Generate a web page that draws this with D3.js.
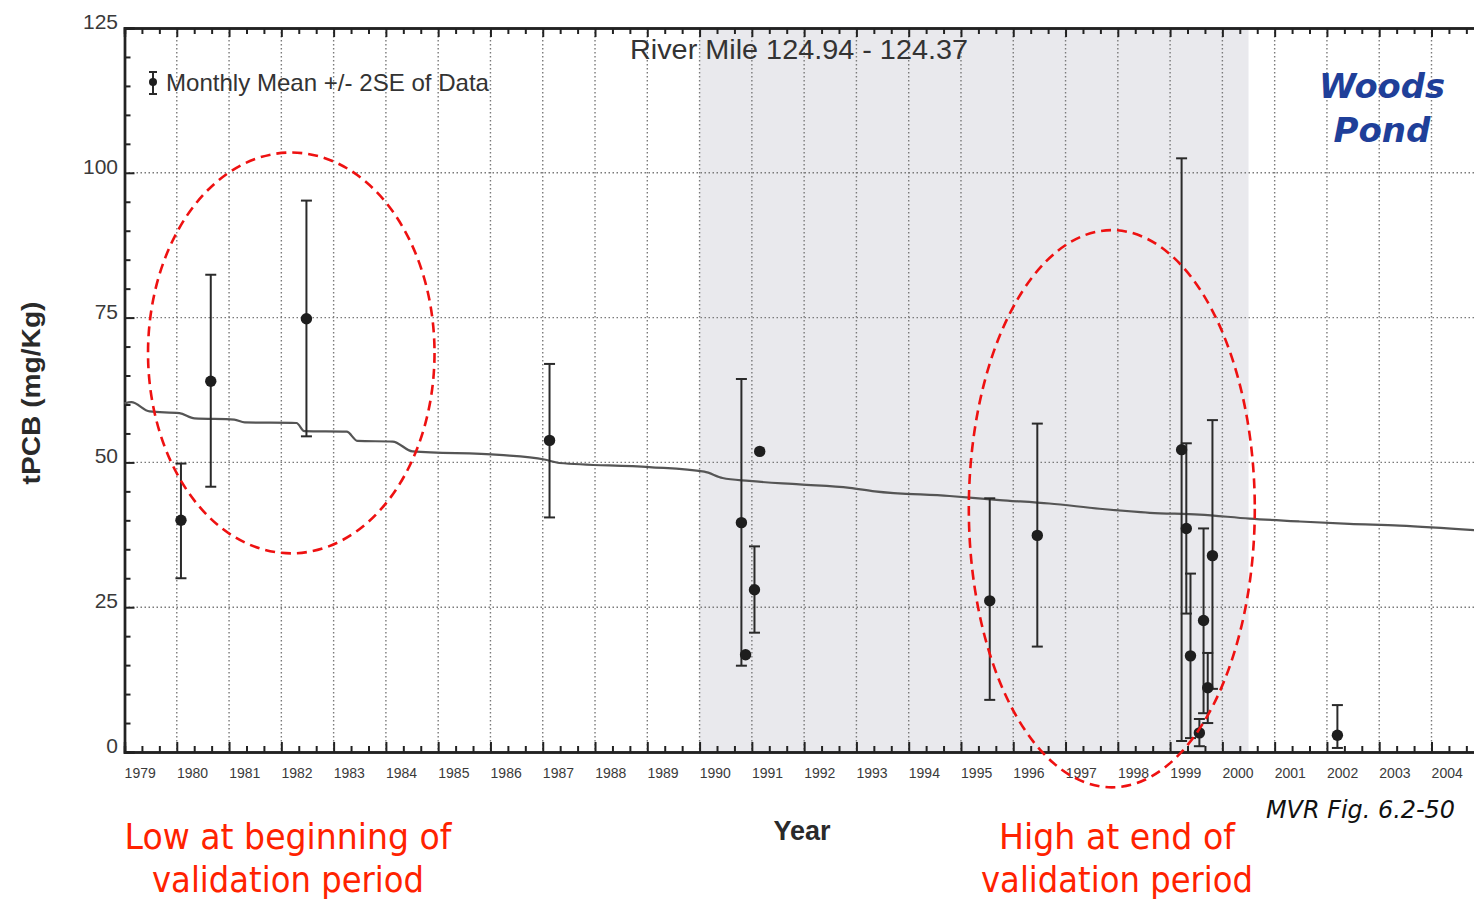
<!DOCTYPE html>
<html>
<head>
<meta charset="utf-8">
<script src="https://cdn.jsdelivr.net/npm/d3@7"></script>
<style>
  body { margin: 0; background: #fff; }
  svg { display: block; }
</style>
</head>
<body>
<svg id="chart" width="1474" height="900"></svg>
<script>
// ---- data -------------------------------------------------------------
const yearLabels = d3.range(1979, 2005);           // 1979 ... 2004
const yTickValues = [0, 25, 50, 75, 100, 125];
const yGridValues = [25, 50, 75, 100];
const validationPeriod = [1990.0, 2000.5];

// Monthly mean tPCB (mg/Kg) with +/- 2SE limits (null where no bar is shown)
const obsYears = [1980.08, 1980.65, 1982.48, 1987.13, 1990.80, 1990.88, 1991.15, 1991.05,
                  1995.55, 1996.46, 1999.22, 1999.31, 1999.39, 1999.56, 1999.64, 1999.72,
                  1999.81, 2002.20];
const obsMean  = [40.0, 64.0, 74.8, 53.8, 39.6, 16.8, 51.9, 28.0,
                  26.1, 37.4, 52.2, 38.6, 16.6, 3.3, 22.7, 11.1,
                  33.9, 2.9];
const obsLower = [30.0, 45.8, 54.5, 40.5, 14.9, null, null, 20.6,
                  9.0, 18.2, 1.9, 23.9, 2.4, 1.0, 6.7, 5.0,
                  10.9, 0.7];
const obsUpper = [49.8, 82.4, 95.2, 67.0, 64.4, null, null, 35.5,
                  43.8, 56.7, 102.5, 53.3, 30.8, 5.7, 38.6, 17.1,
                  57.3, 8.1];

// Model-predicted tPCB trajectory
const modelYears  = [1979.0, 1979.13, 1979.48, 1980.05, 1980.34, 1981.10, 1981.30, 1982.29,
                     1982.44, 1983.25, 1983.46, 1984.13, 1984.51, 1986.17, 1987.03, 1987.32,
                     1989.04, 1990.09, 1990.44, 1990.95, 1991.91, 1992.87, 1993.35, 1994.78,
                     1995.74, 1996.69, 1997.65, 1998.61, 1999.56, 2000.52, 2001.48, 2002.43,
                     2003.39, 2005.0];
const modelValues = [60.2, 60.4, 58.8, 58.5, 57.6, 57.4, 56.9, 56.8,
                     55.4, 55.3, 53.7, 53.6, 51.9, 51.3, 50.5, 49.9,
                     49.2, 48.4, 47.3, 46.8, 46.2, 45.6, 45.0, 44.2,
                     43.5, 42.9, 42.0, 41.3, 41.0, 40.3, 39.8, 39.4,
                     39.1, 38.2];

// Highlighted periods: [start year, end year, low value, high value]
const highlightLow  = [1979.45, 1984.93, 34.3, 103.5];
const highlightHigh = [1995.15, 2000.62, -6.1, 90.1];

// ---- layout -----------------------------------------------------------
const svg = d3.select("#chart");
const plotLeft = 124.5, plotTop = 28, plotBottom = 752;
const yearWidth = 52.28;

const x = d3.scaleLinear().domain([1979, 2005]).range([plotLeft, plotLeft + 26 * yearWidth]);
const y = d3.scaleLinear().domain([0, 125]).range([plotBottom, plotTop]);
const plotRight = x(2005);

const axisColor = "#222";
const textGray = "#3a3a3a";

// validation-period shading
svg.append("rect")
  .attr("x", x(validationPeriod[0]))
  .attr("y", y(125))
  .attr("width", x(validationPeriod[1]) - x(validationPeriod[0]))
  .attr("height", y(0) - y(125))
  .attr("fill", "#e9e9ed");

// dotted grid
const grid = svg.append("g").attr("stroke", "#7a7a7a").attr("stroke-width", 1.4)
  .attr("stroke-dasharray", "1.5,2.5");
grid.selectAll("line.v").data(yearLabels.slice(1).concat([2005]))
  .join("line").attr("class", "v")
  .attr("x1", d => x(d)).attr("x2", d => x(d))
  .attr("y1", y(125)).attr("y2", y(0));
grid.selectAll("line.h").data(yGridValues)
  .join("line").attr("class", "h")
  .attr("x1", x(1979)).attr("x2", plotRight)
  .attr("y1", d => y(d)).attr("y2", d => y(d));

// axes (ticks pointing inwards)
const minorX = d3.range(1979 * 3, 2005 * 3 + 1).map(d => d / 3).filter(d => Math.abs(d - Math.round(d)) > 1e-6);
const majorX = d3.range(1979, 2006);

const bottomMinor = d3.axisBottom(x).tickValues(minorX).tickSize(-6).tickFormat("");
const bottomMajor = d3.axisBottom(x).tickValues(majorX).tickSize(-10).tickFormat("");
const topMinor = d3.axisTop(x).tickValues(minorX).tickSize(-6).tickFormat("");
const topMajor = d3.axisTop(x).tickValues(majorX).tickSize(-9).tickFormat("");
const leftMinor = d3.axisLeft(y).tickValues(d3.range(0, 126, 5).filter(d => d % 25)).tickSize(-6).tickFormat("");
const leftMajor = d3.axisLeft(y).tickValues(yTickValues).tickSize(-10).tickFormat("");

function styleAxis(g) {
  g.select(".domain").attr("stroke", axisColor).attr("stroke-width", 2.4);
  g.selectAll(".tick line").attr("stroke", axisColor).attr("stroke-width", 2);
}
svg.append("g").attr("transform", `translate(0,${plotBottom})`).call(bottomMinor).call(styleAxis);
svg.append("g").attr("transform", `translate(0,${plotBottom})`).call(bottomMajor).call(styleAxis);
svg.append("g").attr("transform", `translate(0,${plotTop})`).call(topMinor).call(styleAxis);
svg.append("g").attr("transform", `translate(0,${plotTop})`).call(topMajor).call(styleAxis);
svg.append("g").attr("transform", `translate(${plotLeft},0)`).call(leftMinor).call(styleAxis);
svg.append("g").attr("transform", `translate(${plotLeft},0)`).call(leftMajor).call(styleAxis);

// tick labels
svg.append("g").selectAll("text").data(yearLabels).join("text")
  .attr("x", d => x(d + 0.3))
  .attr("y", 778)
  .attr("text-anchor", "middle")
  .attr("font-family", "Liberation Sans Narrow, Liberation Sans, Arial, sans-serif")
  .attr("font-size", 14)
  .attr("fill", textGray)
  .text(d => d);

svg.append("g").selectAll("text").data(yTickValues).join("text")
  .attr("x", 118)
  .attr("y", d => y(d) + 1)
  .attr("text-anchor", "end")
  .attr("font-family", "Liberation Sans, Arial, sans-serif")
  .attr("font-size", 21)
  .attr("fill", textGray)
  .text(d => d);

// axis titles
svg.append("text")
  .attr("x", 802).attr("y", 840)
  .attr("text-anchor", "middle")
  .attr("font-family", "Liberation Sans, Arial, sans-serif")
  .attr("font-weight", "bold")
  .attr("font-size", 27)
  .attr("fill", "#2a2a2a")
  .text("Year");

svg.append("text")
  .attr("transform", "translate(40,393) rotate(-90)")
  .attr("text-anchor", "middle")
  .attr("font-family", "Liberation Sans, Arial, sans-serif")
  .attr("font-weight", "bold")
  .attr("font-size", 25)
  .attr("textLength", 183)
  .attr("lengthAdjust", "spacingAndGlyphs")
  .attr("fill", "#2a2a2a")
  .text("tPCB (mg/Kg)");

// panel title
svg.append("text")
  .attr("x", 799).attr("y", 59)
  .attr("text-anchor", "middle")
  .attr("font-family", "Liberation Sans, Arial, sans-serif")
  .attr("font-size", 27)
  .attr("textLength", 338)
  .attr("lengthAdjust", "spacingAndGlyphs")
  .attr("fill", "#333")
  .text("River Mile 124.94 - 124.37");

// model line
svg.append("path")
  .datum(modelYears.map((yr, i) => [yr, modelValues[i]]))
  .attr("fill", "none")
  .attr("stroke", "#555")
  .attr("stroke-width", 2.2)
  .attr("d", d3.line().x(d => x(d[0])).y(d => y(d[1])).curve(d3.curveMonotoneX));

// error bars + means
const obs = obsYears.map((yr, i) => ({ yr, mean: obsMean[i], lo: obsLower[i], hi: obsUpper[i] }));
const cap = 5.5;
const bars = svg.append("g").attr("stroke", "#2a2a2a").attr("stroke-width", 2);
const withBars = obs.filter(d => d.lo !== null);
bars.selectAll("line.stem").data(withBars).join("line").attr("class", "stem")
  .attr("x1", d => x(d.yr)).attr("x2", d => x(d.yr))
  .attr("y1", d => y(d.hi)).attr("y2", d => y(d.lo));
bars.selectAll("line.capHi").data(withBars).join("line").attr("class", "capHi")
  .attr("x1", d => x(d.yr) - cap).attr("x2", d => x(d.yr) + cap)
  .attr("y1", d => y(d.hi)).attr("y2", d => y(d.hi));
bars.selectAll("line.capLo").data(withBars).join("line").attr("class", "capLo")
  .attr("x1", d => x(d.yr) - cap).attr("x2", d => x(d.yr) + cap)
  .attr("y1", d => y(d.lo)).attr("y2", d => y(d.lo));
svg.append("g").selectAll("circle").data(obs).join("circle")
  .attr("cx", d => x(d.yr)).attr("cy", d => y(d.mean))
  .attr("r", 5.7)
  .attr("fill", "#1e1e1e");

// legend
const lg = svg.append("g");
lg.append("line").attr("x1", 153).attr("x2", 153).attr("y1", 72).attr("y2", 94)
  .attr("stroke", "#2a2a2a").attr("stroke-width", 2);
lg.append("line").attr("x1", 149).attr("x2", 157).attr("y1", 72).attr("y2", 72)
  .attr("stroke", "#2a2a2a").attr("stroke-width", 2);
lg.append("line").attr("x1", 149).attr("x2", 157).attr("y1", 94).attr("y2", 94)
  .attr("stroke", "#2a2a2a").attr("stroke-width", 2);
lg.append("circle").attr("cx", 153).attr("cy", 82).attr("r", 4).attr("fill", "#1e1e1e");
lg.append("text").attr("x", 166).attr("y", 91)
  .attr("font-family", "Liberation Sans, Arial, sans-serif")
  .attr("font-size", 24)
  .attr("textLength", 323)
  .attr("lengthAdjust", "spacingAndGlyphs")
  .attr("fill", "#333")
  .text("Monthly Mean +/- 2SE of Data");

// highlighted periods
function drawEllipse(h) {
  const cx = (x(h[0]) + x(h[1])) / 2, cy = (y(h[2]) + y(h[3])) / 2;
  svg.append("ellipse")
    .attr("cx", cx).attr("cy", cy)
    .attr("rx", (x(h[1]) - x(h[0])) / 2)
    .attr("ry", (y(h[2]) - y(h[3])) / 2)
    .attr("fill", "none")
    .attr("stroke", "#ee1111")
    .attr("stroke-width", 2.6)
    .attr("stroke-dasharray", "10,6");
}
drawEllipse(highlightLow);
drawEllipse(highlightHigh);

// site label
const site = svg.append("text")
  .attr("text-anchor", "middle")
  .attr("font-family", "DejaVu Sans, Verdana, sans-serif")
  .attr("font-weight", "bold")
  .attr("font-style", "italic")
  .attr("font-size", 33)
  .attr("fill", "#1f3f99");
site.append("tspan").attr("x", 1382).attr("y", 98).attr("textLength", 126).attr("lengthAdjust", "spacingAndGlyphs").text("Woods");
site.append("tspan").attr("x", 1382).attr("y", 142).attr("textLength", 97).attr("lengthAdjust", "spacingAndGlyphs").text("Pond");

// figure reference
svg.append("text")
  .attr("x", 1266).attr("y", 818)
  .attr("font-family", "DejaVu Sans, Verdana, sans-serif")
  .attr("font-style", "italic")
  .attr("font-size", 25)
  .attr("textLength", 189)
  .attr("lengthAdjust", "spacingAndGlyphs")
  .attr("fill", "#111")
  .text("MVR Fig. 6.2-50");

// annotations below the chart
function note(cx, lines, widths) {
  const t = svg.append("text")
    .attr("text-anchor", "middle")
    .attr("font-family", "DejaVu Sans, Verdana, sans-serif")
    .attr("font-size", 35)
    .attr("fill", "#ff2200");
  lines.forEach((s, i) => {
    t.append("tspan").attr("x", cx).attr("y", 849 + i * 43)
      .attr("textLength", widths[i]).attr("lengthAdjust", "spacingAndGlyphs").text(s);
  });
}
note(288, ["Low at beginning of", "validation period"], [327, 272]);
note(1117, ["High at end of", "validation period"], [236, 272]);
</script>
</body>
</html>
